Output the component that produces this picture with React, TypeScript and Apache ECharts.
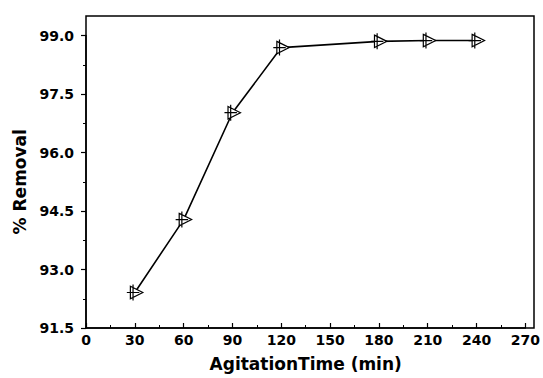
import React, { useEffect, useRef } from "react";
import * as echarts from "echarts";

// Data
const agitationTime = [30, 60, 90, 120, 180, 210, 240];
const removalPercent = [92.41, 94.28, 97.02, 98.69, 98.85, 98.87, 98.87];

// Axis settings
const xMin = 0;
const xMax = 270;
const xInterval = 30;
const yMin = 91.5;
const yMax = 99.0;
const yInterval = 1.5;

const FONT = "DejaVu Sans";

const markerPath = "path://M4 3 L18 10 L4 17 Z M7 1 L7 19 M0 10 L14 10";

export default function App() {
  const ref = useRef<HTMLDivElement>(null);

  useEffect(() => {
    if (!ref.current) return;
    const chart = echarts.init(ref.current, null, { renderer: "svg" });
    chart.setOption({
      animation: false,
      backgroundColor: "#ffffff",
      grid: { left: 86, right: 16, top: 35.5, bottom: 50, containLabel: false },
      graphic: [
        {
          type: "rect",
          shape: { x: 86, y: 16, width: 448, height: 312 },
          style: { fill: "none", stroke: "#000", lineWidth: 1.5 },
          z: 100,
          silent: true,
        },
      ],
      xAxis: {
        type: "value",
        min: xMin,
        max: xMax,
        interval: xInterval,
        name: "AgitationTime (min)",
        nameLocation: "middle",
        nameGap: 27,
        nameTextStyle: { fontFamily: FONT, fontWeight: "bold", fontSize: 17, color: "#000" },
        axisLine: { show: true, lineStyle: { color: "#000", width: 1.5 } },
        axisTick: { show: true, inside: true, length: 5, lineStyle: { color: "#000", width: 1.2 } },
        minorTick: { show: true, splitNumber: 2, length: 3, lineStyle: { color: "#000", width: 1 } },
        axisLabel: { margin: 5, fontFamily: FONT, fontWeight: "bold", fontSize: 14, color: "#000" },
        splitLine: { show: false },
      },
      yAxis: {
        type: "value",
        min: yMin,
        max: yMax,
        interval: yInterval,
        name: "% Removal",
        nameLocation: "middle",
        nameGap: 58,
        nameTextStyle: { fontFamily: FONT, fontWeight: "bold", fontSize: 17, color: "#000" },
        axisLine: { show: true, lineStyle: { color: "#000", width: 1.5 } },
        axisTick: { show: true, inside: false, length: 5, lineStyle: { color: "#000", width: 1.2 } },
        minorTick: { show: true, splitNumber: 2, length: 3, lineStyle: { color: "#000", width: 1 } },
        axisLabel: {
          margin: 12,
          fontFamily: FONT,
          fontWeight: "bold",
          fontSize: 14,
          color: "#000",
          formatter: (v: number) => v.toFixed(1),
        },
        splitLine: { show: false },
      },
      series: [
        {
          type: "line",
          data: agitationTime.map((t, i) => [t, removalPercent[i]]),
          symbol: markerPath,
          symbolSize: [16, 16],
          showAllSymbol: true,
          lineStyle: { color: "#000", width: 1.6 },
          itemStyle: { color: "#ffffff", borderColor: "#000", borderWidth: 1.2 },
          clip: false,
          z: 3,
        },
      ],
    });
    return () => chart.dispose();
  }, []);

  return (
    <div
      ref={ref}
      style={{ position: "fixed", left: 0, top: 0, width: 543, height: 378, background: "#fff" }}
    />
  );
}
